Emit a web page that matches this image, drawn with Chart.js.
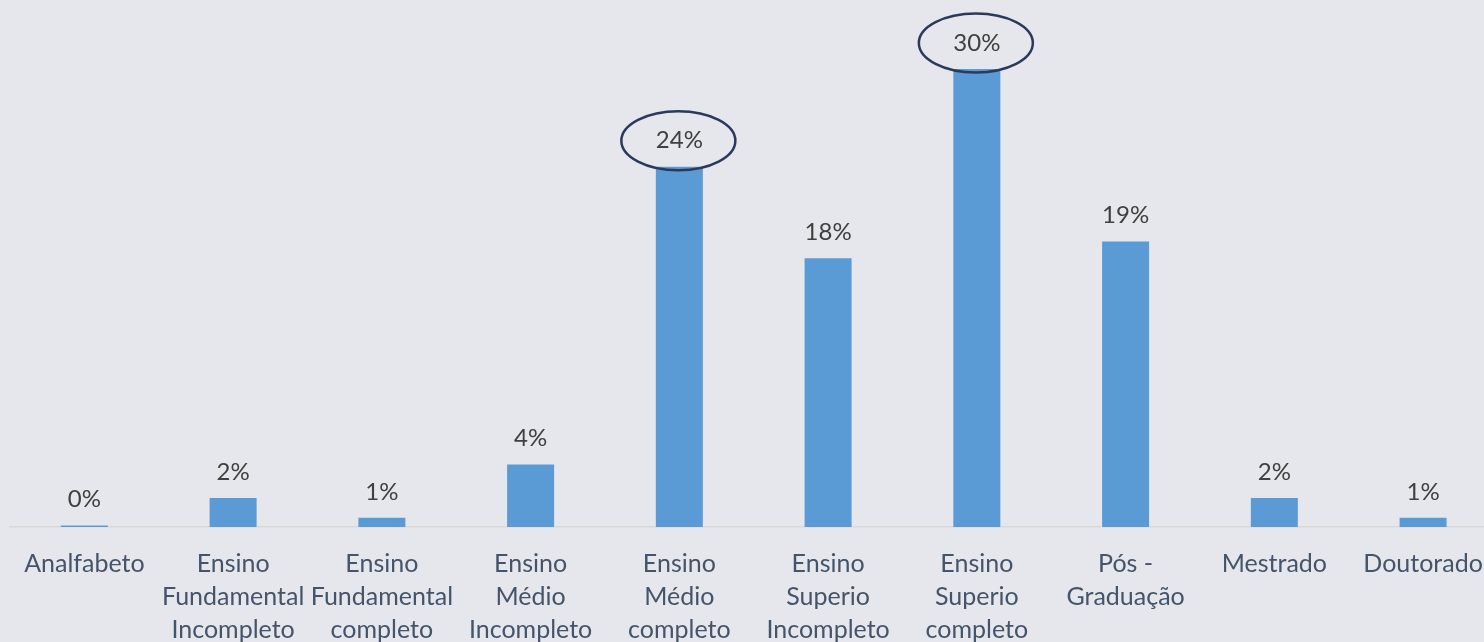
<!DOCTYPE html>
<html>
<head>
<meta charset="utf-8">
<script src="https://cdn.jsdelivr.net/npm/chart.js@4/dist/chart.umd.min.js"></script>
<style>
  html, body { margin:0; padding:0; background:#E6E7EC; overflow:hidden; width:1484px; height:642px; }
  #wrap { position:relative; width:1503px; height:642px; }
</style>
</head>
<body>
<div id="wrap"><canvas id="c" width="1503" height="642"></canvas></div>
<script>
const categories = [
  ["Analfabeto"],
  ["Ensino", "Fundamental", "Incompleto"],
  ["Ensino", "Fundamental", "completo"],
  ["Ensino", "Médio", "Incompleto"],
  ["Ensino", "Médio", "completo"],
  ["Ensino", "Superio", "Incompleto"],
  ["Ensino", "Superio", "completo"],
  ["Pós -", "Graduação"],
  ["Mestrado"],
  ["Doutorado"]
];
const values = [0.1, 1.9, 0.6, 4.1, 23.6, 17.6, 30.0, 18.7, 1.9, 0.6];
const highlighted = [4, 6];

const FONT = "Lato, 'Open Sans', 'DejaVu Sans', sans-serif";

const labelPlugin = {
  id: 'valueLabels',
  afterDatasetsDraw(chart) {
    const ctx = chart.ctx;
    const meta = chart.getDatasetMeta(0);
    ctx.save();
    meta.data.forEach((bar, i) => {
      const txt = Math.round(values[i]) + '%';
      const cy = bar.y - 26;
      ctx.font = "24px " + FONT;
      ctx.fillStyle = '#404040';
      ctx.textAlign = 'center';
      ctx.textBaseline = 'middle';
      ctx.fillText(txt, bar.x, cy);
      if (highlighted.includes(i)) {
        ctx.beginPath();
        ctx.ellipse(bar.x - 1, cy, 57, 29.5, 0, 0, Math.PI * 2);
        ctx.lineWidth = 2.5;
        ctx.strokeStyle = '#2B3A5C';
        ctx.stroke();
      }
    });
    ctx.restore();
  }
};

new Chart(document.getElementById('c'), {
  type: 'bar',
  data: {
    labels: categories,
    datasets: [{
      data: values,
      backgroundColor: '#5B9BD5',
      borderWidth: 0,
      categoryPercentage: 1.0,
      barPercentage: 0.316
    }]
  },
  options: {
    responsive: false,
    animation: false,
    devicePixelRatio: 1,
    layout: { padding: { left: 10, right: 3, top: 69, bottom: 0 } },
    plugins: { legend: { display: false }, tooltip: { enabled: false } },
    scales: {
      y: {
        display: false,
        min: 0,
        max: 30
      },
      x: {
        grid: { display: false, drawTicks: false },
        border: { display: true, color: '#D9D9D9', width: 1.5 },
        ticks: {
          autoSkip: false,
          maxRotation: 0,
          minRotation: 0,
          padding: 20,
          color: '#44546A',
          font: { family: FONT, size: 25, lineHeight: '33px' }
        },
        afterFit(scale) { scale.height = 115; }
      }
    }
  },
  plugins: [labelPlugin]
});
</script>
</body>
</html>
